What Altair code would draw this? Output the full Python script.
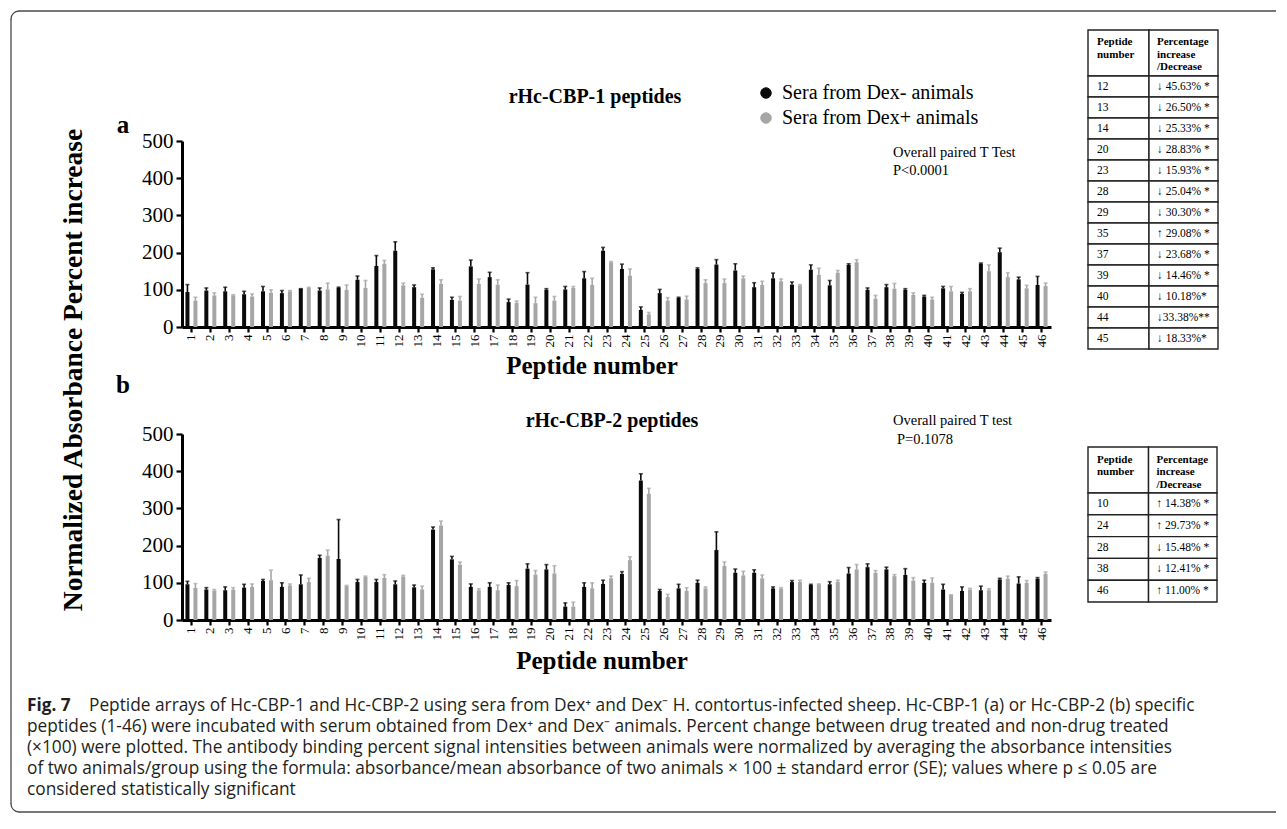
import altair as alt
import pandas as pd

SERIF = "Liberation Serif"
SANS = "Open Sans"

peptides = list(range(1, 47))
groups = ["Sera from Dex-  animals", "Sera from Dex+ animals"]
group_colors = ["#0a0a0a", "#a6a6a6"]

# Panel a: rHc-CBP-1 peptides
a_neg = [94, 98, 96, 88, 96, 91, 103, 98, 105, 127, 164, 205, 107, 155, 73, 163, 134, 67, 114, 100,
         101, 131, 205, 156, 46, 91, 78, 156, 168, 152, 107, 131, 114, 154, 112, 167, 100, 107, 100, 82,
         104, 89, 170, 201, 128, 113]
a_neg_err = [114, 105, 107, 96, 109, 98, 103, 105, 107, 137, 192, 229, 113, 159, 80, 180, 147, 75, 146, 103,
             109, 149, 214, 169, 54, 101, 80, 159, 181, 170, 119, 145, 121, 167, 125, 170, 105, 114, 103, 85,
             109, 93, 172, 212, 134, 136]
a_pos = [71, 85, 85, 82, 92, 96, 105, 101, 100, 105, 170, 112, 79, 116, 71, 116, 114, 65, 64, 71,
         105, 113, 174, 138, 34, 71, 74, 118, 118, 131, 113, 123, 112, 140, 146, 174, 76, 103, 86, 74,
         96, 96, 150, 134, 104, 110]
a_pos_err = [80, 92, 87, 89, 100, 98, 107, 118, 113, 125, 179, 118, 88, 127, 82, 129, 127, 70, 80, 82,
             109, 131, 176, 156, 39, 79, 83, 127, 129, 137, 123, 129, 114, 158, 152, 181, 85, 117, 92, 80,
             109, 103, 167, 146, 112, 118]

# Panel b: rHc-CBP-2 peptides
b_neg = [96, 82, 80, 87, 105, 89, 96, 167, 164, 102, 102, 96, 88, 243, 163, 89, 89, 94, 138, 136,
         36, 89, 97, 124, 375, 78, 85, 100, 188, 127, 127, 85, 102, 94, 96, 125, 142, 136, 121, 100,
         82, 78, 80, 109, 98, 111]
b_neg_err = [104, 87, 89, 96, 109, 100, 121, 174, 270, 109, 109, 105, 94, 250, 171, 97, 100, 100, 151, 149,
             46, 100, 107, 130, 393, 82, 96, 107, 237, 137, 135, 89, 106, 96, 103, 141, 151, 142, 138, 107,
             96, 89, 91, 112, 116, 114]
b_pos = [86, 79, 82, 89, 107, 93, 102, 173, 91, 116, 113, 117, 82, 254, 149, 80, 80, 91, 122, 125,
         36, 85, 112, 161, 339, 62, 78, 85, 145, 120, 112, 84, 102, 96, 103, 136, 127, 118, 106, 100,
         67, 82, 80, 111, 100, 124]
b_pos_err = [98, 82, 87, 97, 134, 97, 112, 188, 93, 118, 122, 120, 91, 266, 156, 84, 94, 106, 133, 146,
             48, 100, 118, 170, 354, 69, 87, 89, 156, 131, 121, 87, 107, 97, 107, 149, 133, 122, 114, 113,
             68, 85, 84, 118, 106, 129]

y_ticks = [0, 100, 200, 300, 400, 500]

table_header = ["Peptide\nnumber", "Percentage\nincrease\n/Decrease"]
table_a_peptide = ["12", "13", "14", "20", "23", "28", "29", "35", "37", "39", "40", "44", "45"]
table_a_change = ["↓ 45.63% *", "↓  26.50% *", "↓  25.33% *", "↓  28.83% *", "↓ 15.93% *", "↓  25.04% *",
                  "↓  30.30% *", "↑ 29.08% *", "↓ 23.68% *", "↓ 14.46% *", "↓ 10.18%*", "↓33.38%**",
                  "↓ 18.33%*"]
table_b_peptide = ["10", "24", "28", "38", "46"]
table_b_change = ["↑ 14.38% *", "↑ 29.73% *", "↓ 15.48% *", "↓ 12.41% *", "↑ 11.00% *"]

title_a = "rHc-CBP-1 peptides"
title_b = "rHc-CBP-2 peptides"
test_a = ["Overall paired T Test", "P<0.0001"]
test_b = ["Overall paired T test", "P=0.1078"]
x_title = "Peptide number"
y_title = "Normalized Absorbance Percent increase"
caption_fig = "Fig. 7"
caption_lines = [
    "Peptide arrays of Hc-CBP-1 and Hc-CBP-2 using sera from Dex⁺ and Dex⁻ H. contortus-infected sheep. Hc-CBP-1 (a) or Hc-CBP-2 (b) specific",
    "peptides (1-46) were incubated with serum obtained from Dex⁺ and Dex⁻ animals. Percent change between drug treated and non-drug treated",
    "(×100) were plotted. The antibody binding percent signal intensities between animals were normalized by averaging the absorbance intensities",
    "of two animals/group using the formula: absorbance/mean absorbance of two animals × 100 ± standard error (SE); values where p ≤ 0.05 are",
    "considered statistically significant",
]

W = 869
H = 186


def text(t, x, y, size, weight="normal", font=SERIF, align="left", angle=0, color="black", baseline="middle"):
    return alt.Chart(pd.DataFrame({"t": [t]})).mark_text(
        align=align, baseline=baseline, fontSize=size, fontWeight=weight, font=font,
        angle=angle, color=color
    ).encode(x=alt.value(x), y=alt.value(y), text="t:N")


def hline(x1, x2, y, color="#4a4a4a", width=1.3):
    return alt.Chart(pd.DataFrame({"d": [0]})).mark_rule(color=color, strokeWidth=width).encode(
        x=alt.value(x1), x2=alt.value(x2), y=alt.value(y))


def vline(x, y1, y2, color="#4a4a4a", width=1.3):
    return alt.Chart(pd.DataFrame({"d": [0]})).mark_rule(color=color, strokeWidth=width).encode(
        x=alt.value(x), y=alt.value(y1), y2=alt.value(y2))


def corner(cx, cy, t1, t2, r=8, color="#4a4a4a", width=1.3):
    return alt.Chart(pd.DataFrame({"d": [0]})).mark_arc(
        radius=r, radius2=r, theta=t1, theta2=t2, fillOpacity=0, stroke=color, strokeWidth=width,
        strokeJoin="round"
    ).encode(x=alt.value(cx), y=alt.value(cy))


X_AXIS = alt.Axis(title=None, labelAngle=270, labelFont=SERIF, labelFontSize=13,
                  labelColor="black", tickColor="black", tickSize=5, tickWidth=2.2,
                  domainColor="black", domainWidth=3, labelPadding=2, labelOverlap=False,
                  labelAlign="right", labelBaseline="middle")
Y_AXIS = alt.Axis(title=None, values=y_ticks, labelFont=SERIF, labelFontSize=21,
                  labelColor="black", tickColor="black", tickSize=6, tickWidth=2.2,
                  domainColor="black", domainWidth=3, grid=False, labelPadding=3,
                  labelFlush=False, labelOverlap=False)


def bars_layer(neg, neg_err, pos, pos_err, show_legend):
    df = pd.DataFrame({
        "peptide": peptides + peptides,
        "group": [groups[0]] * len(peptides) + [groups[1]] * len(peptides),
        "value": neg + pos,
        "err": neg_err + pos_err,
    })
    x = alt.X("peptide:O", scale=alt.Scale(paddingInner=0, paddingOuter=0), axis=X_AXIS)
    xoff = alt.XOffset("group:N", sort=groups,
                       scale=alt.Scale(domain=groups, paddingInner=0.5, paddingOuter=0.43))
    yscale = alt.Scale(domain=[0, 500], nice=False)
    y = alt.Y("value:Q", scale=yscale, axis=Y_AXIS)
    y_err = alt.Y("err:Q", scale=yscale, axis=Y_AXIS)
    if show_legend:
        legend = alt.Legend(orient="none", legendX=574, legendY=-58, title=None, symbolType="circle",
                            symbolSize=110, labelFont=SERIF, labelFontSize=20, labelColor="black",
                            rowPadding=5, symbolStrokeColor="#222222", symbolStrokeWidth=1,
                            symbolOpacity=1, padding=0, labelOffset=6, labelLimit=400)
    else:
        legend = None
    color = alt.Color("group:N", scale=alt.Scale(domain=groups, range=group_colors), legend=legend)
    base = alt.Chart(df)
    bars = base.mark_bar().encode(x=x, xOffset=xoff, y=y, color=color)
    errs = base.mark_rule(strokeWidth=1.6).encode(x=x, xOffset=xoff, y=y, y2="err:Q", color=color)
    caps = base.mark_tick(thickness=1.6, size=4).encode(x=x, xOffset=xoff, y=y_err, color=color)
    return alt.layer(bars, errs, caps)


def table_layer(pep, chg, x_left, x_right, y_top, head_h, row_h):
    n = len(pep)
    split = 61 / 130
    head_u = head_h / row_h
    total = head_u + n
    cells = []
    for c0, c1 in [(0, split), (split, 1)]:
        cells.append({"x0": c0, "x1": c1, "y0": 0, "y1": head_u})
        for i in range(n):
            cells.append({"x0": c0, "x1": c1, "y0": head_u + i, "y1": head_u + i + 1})
    xs = alt.Scale(domain=[0, 1], range=[x_left, x_right], nice=False, zero=False)
    ys = alt.Scale(domain=[0, total], range=[y_top, y_top + total * row_h], nice=False, zero=False)
    rects = alt.Chart(pd.DataFrame(cells)).mark_rect(fill="white", stroke="#222222", strokeWidth=1.4).encode(
        x=alt.X("x0:Q", scale=xs, axis=None), x2="x1:Q",
        y=alt.Y("y0:Q", scale=ys, axis=None), y2="y1:Q")
    head_df = pd.DataFrame({"t": table_header, "x": [9 / 130, 69 / 130], "y": [0.3, 0.3]})
    head = alt.Chart(head_df).mark_text(align="left", baseline="top", font=SERIF, fontSize=11,
                                        fontWeight="bold", lineBreak="\n", lineHeight=12.5,
                                        color="black").encode(
        x=alt.X("x:Q", scale=xs, axis=None), y=alt.Y("y:Q", scale=ys, axis=None), text="t:N")
    rows = pd.DataFrame({
        "t": pep + chg,
        "x": [9 / 130] * n + [69 / 130] * n,
        "y": [head_u + i + 0.5 for i in range(n)] * 2,
    })
    body = alt.Chart(rows).mark_text(align="left", baseline="middle", font=SERIF, fontSize=11.5,
                                     color="black").encode(
        x=alt.X("x:Q", scale=xs, axis=None), y=alt.Y("y:Q", scale=ys, axis=None), text="t:N")
    return alt.layer(rects, head, body)


# ---------- Panel a (origin at page 182,141)
panel_a = alt.layer(
    # figure border
    hline(-163, 1094, -130),
    vline(-171, -122, 663),
    corner(-163, -122, 4.712389, 6.283185),
    corner(-163, 663, 3.141593, 4.712389),
    hline(-163, 1094, 671),
    bars_layer(a_neg, a_neg_err, a_pos, a_pos_err, True),
    table_layer(table_a_peptide, table_a_change, 906, 1036, -111, 46, 21),
    text("a", -59, -16, 25, weight="bold", align="center"),
    text(title_a, 413, -44, 20, weight="bold", align="center"),
    text(test_a[0], 711, 12, 14.5),
    text(test_a[1], 711, 30, 14.5),
    text(x_title, 410, 225, 25, weight="bold", align="center"),
    text(y_title, -108, 229, 27.5, weight="bold", align="center", angle=270),
).resolve_scale(x="independent", y="independent").properties(width=W, height=H)

# ---------- Panel b (origin at page 182,434)
caption_y = [272, 293, 314, 335, 356]
caption_layers = [text(caption_fig, -155, caption_y[0], 17.2, weight="bold", font=SANS, color="#231f20")]
for i, line in enumerate(caption_lines):
    cx = -93 if i == 0 else -155
    caption_layers.append(text(line, cx, caption_y[i], 17.3, font=SANS, color="#231f20"))

panel_b = alt.layer(
    bars_layer(b_neg, b_neg_err, b_pos, b_pos_err, False),
    table_layer(table_b_peptide, table_b_change, 906, 1035, 13, 46, 21.8),
    text("b", -59, -49, 25, weight="bold", align="center"),
    text(title_b, 430, -13, 20, weight="bold", align="center"),
    text(test_b[0], 711, -13, 14.5),
    text(test_b[1], 715, 6, 14.5),
    text(x_title, 420, 227, 25, weight="bold", align="center"),
    *caption_layers,
).resolve_scale(x="independent", y="independent").properties(width=W, height=H)

chart = alt.vconcat(panel_a, panel_b, spacing=107, bounds="flush").resolve_scale(
    color="independent"
).properties(
    padding={"left": 2, "top": 2, "right": 0, "bottom": 0},
    background="white",
).configure_view(stroke="transparent", strokeWidth=0)

chart.save("out.html", embed_options={"renderer": "svg", "actions": False})
